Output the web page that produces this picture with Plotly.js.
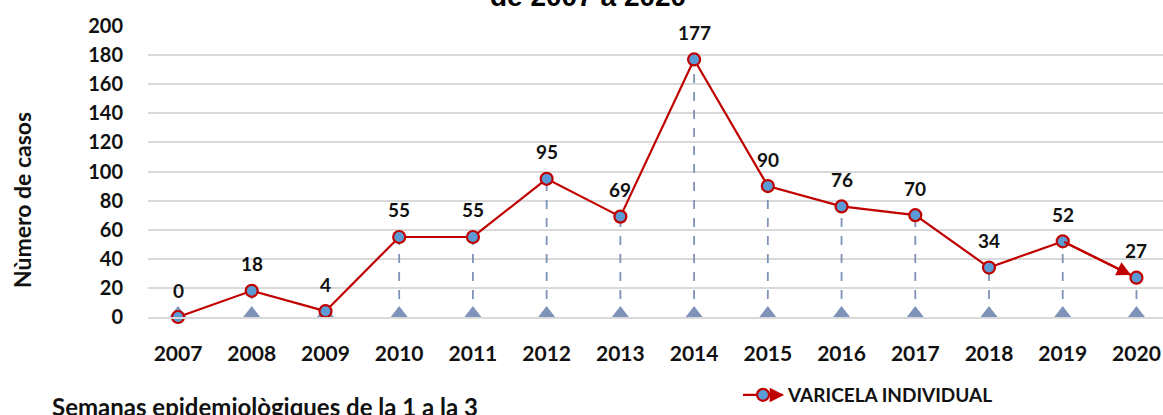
<!DOCTYPE html>
<html><head><meta charset="utf-8">
<script src="https://cdn.plot.ly/plotly-3.0.1.min.js"></script>
<style>html,body{margin:0;padding:0;background:#fff;}#c{width:1163px;height:415px;}</style>
</head><body><div id="c"></div>
<script>
const years = ['2007','2008','2009','2010','2011','2012','2013','2014','2015','2016','2017','2018','2019','2020'];
const cases = [0,18,4,55,55,95,69,177,90,76,70,34,52,27];
const yTicks = [0,20,40,60,80,100,120,140,160,180,200];
const seriesName = 'VARICELA INDIVIDUAL';
const yTitle = 'Nùmero de casos';
const titleText = 'de 2007 a 2020';
const footText = 'Semanas epidemiològiques de la 1 a la 3';

const RED = '#c00000', BLUE = '#5b9bd5', SLATE = '#7f93b8';
const F = 'Lato, "Open Sans", sans-serif';
const L = 148, PW = 1015, T = 26, PH = 291;
const px = v => (v - L) / PW, py = v => (T + PH - v) / PH;

const dropX = [], dropY = [];
years.forEach((c,i)=>{ dropX.push(c,c,null); dropY.push(0,cases[i],null); });

const traces = [
  {x:dropX, y:dropY, mode:'lines', line:{color:SLATE, width:1.8, dash:'dash'}, showlegend:false, hoverinfo:'skip', cliponaxis:false},
  {x:years, y:years.map(()=>0), mode:'markers', marker:{symbol:'triangle-up', size:22, color:SLATE}, showlegend:false, hoverinfo:'skip', cliponaxis:true},
  {x:years, y:cases, name:seriesName, mode:'lines+markers', line:{color:RED, width:2.2},
   marker:{symbol:'circle', size:12, color:BLUE, line:{color:RED, width:2.2}}, cliponaxis:false}
];

const ann = [];
years.forEach((c,i)=>ann.push({x:i, y:cases[i], xref:'x', yref:'y', text:String(cases[i]), showarrow:false,
  yshift:27, font:{family:F, size:19, color:'#111', weight:'bold'}}));
const n = years.length;
ann.push({x:n-1, y:cases[n-1], ax:n-2, ay:cases[n-2], xref:'x', yref:'y', axref:'x', ayref:'y',
  text:'', showarrow:true, arrowhead:2, arrowsize:1.3, arrowwidth:2.2, arrowcolor:RED, standoff:6});
ann.push({xref:'paper', yref:'paper', x:px(588), y:py(14), xanchor:'center', yanchor:'bottom', text:titleText, showarrow:false,
  font:{family:'Liberation Sans, Arial, sans-serif', size:28, color:'#000', weight:'bold'}});
ann.push({xref:'paper', yref:'paper', x:px(22), y:py(200), xanchor:'center', yanchor:'middle', textangle:-90,
  text:yTitle, showarrow:false, font:{family:F, size:23, color:'#111', weight:'bold'}});
ann.push({xref:'paper', yref:'paper', x:px(50), y:py(406), xanchor:'left', yanchor:'middle',
  text:footText, showarrow:false, font:{family:F, size:24, color:'#111', weight:'bold'}});
// arrowhead extension of the legend line
ann.push({xref:'paper', yref:'paper', x:px(784), y:py(395), ax:-15, ay:0, text:'', showarrow:true,
  arrowhead:2, arrowsize:1.3, arrowwidth:2.2, arrowcolor:RED});

const layout = {
  width:1163, height:415, margin:{l:L, r:0, t:T, b:415-T-PH},
  paper_bgcolor:'#fff', plot_bgcolor:'#fff',
  xaxis:{type:'category', range:[-0.407, 13.36], showgrid:false, zeroline:false, showline:true, linecolor:'#d9d9d9', linewidth:2,
    ticks:'', ticklabelstandoff:17, tickfont:{family:F, size:21, color:'#111', weight:'bold'}, fixedrange:true},
  yaxis:{range:[0,200], tickvals:yTicks, showgrid:true, gridcolor:'#d9d9d9', gridwidth:2, zeroline:false, showline:false,
    ticks:'', ticklabelstandoff:24, tickfont:{family:F, size:20, color:'#111', weight:'bold'}, fixedrange:true},
  showlegend:true,
  legend:{x:px(738), y:py(395), xanchor:'left', yanchor:'middle', orientation:'h', itemwidth:40,
    font:{family:F, size:19, color:'#111', weight:'bold'}, bgcolor:'rgba(0,0,0,0)'},
  annotations:ann
};
Plotly.newPlot('c', traces, layout, {displayModeBar:false, staticPlot:true});
</script></body></html>
